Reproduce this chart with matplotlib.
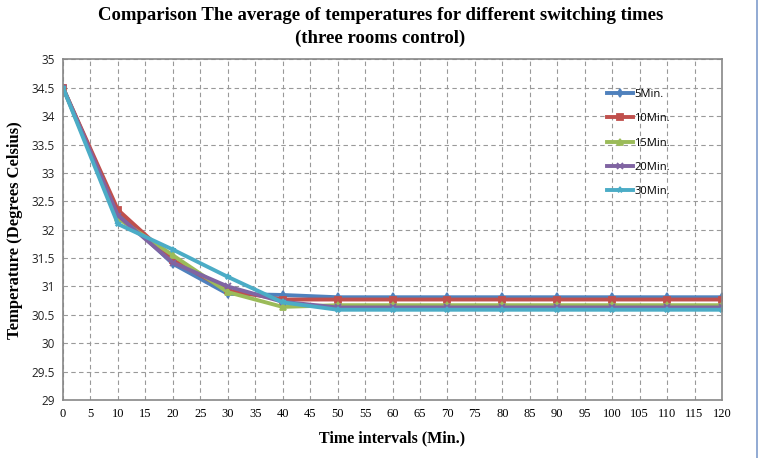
import numpy as np
import matplotlib
matplotlib.use("Agg")
import matplotlib.pyplot as plt
from matplotlib.lines import Line2D

# time points (min) and averaged temperatures per switching time
t = [0, 10, 20, 30, 40, 50, 60, 70, 80, 90, 100, 110, 120]
t5 = [34.5, 32.3, 31.4, 30.87, 30.85, 30.81, 30.81, 30.81, 30.81, 30.81, 30.81, 30.81, 30.81]
t10 = [34.5, 32.35, 31.47, 30.93, 30.77, 30.77, 30.77, 30.77, 30.77, 30.77, 30.77, 30.77, 30.77]
t15 = [34.5, 32.2, 31.55, 30.9, 30.64, 30.67, 30.67, 30.67, 30.67, 30.67, 30.67, 30.67, 30.67]
t20 = [34.5, 32.25, 31.42, 31.0, 30.73, 30.63, 30.63, 30.63, 30.63, 30.63, 30.63, 30.63, 30.63]
t30 = [34.5, 32.1, 31.65, 31.17, 30.72, 30.59, 30.59, 30.59, 30.59, 30.59, 30.59, 30.59, 30.59]

labels = ["5Min.", "10Min.", "15Min.", "20Min.", "30Min."]
colors = ["#4F81BD", "#C0504D", "#9BBB59", "#8064A2", "#4BACC6"]
markers = ["d", "s", "^", "x", "*"]

fig = plt.figure(figsize=(7.61, 4.58), dpi=100)
ax = fig.add_axes([63/761, 1-400/458, (722-63)/761, (400-59.4)/458])

for y, lab, c, m in zip([t5, t10, t15, t20, t30], labels, colors, markers):
    ax.plot(t, y, color=c, lw=2.8, marker=m, ms=4, mew=1.3, label=lab)

ax.set_xlim(0, 120)
ax.set_ylim(29, 35)
ax.set_xticks(np.arange(0, 121, 5))
ax.set_yticks(np.arange(29, 35.01, 0.5))
ax.set_yticklabels(["%g" % v for v in np.arange(29, 35.01, 0.5)], fontsize=8.5,
                   family="Open Sans", color="#222222")
ax.set_xticklabels([str(v) for v in range(0, 121, 5)], fontsize=9,
                   family="Liberation Serif")
ax.tick_params(length=0, pad=6)
ax.grid(True, ls=(0, (4, 3)), color="#999999", lw=0.8)
for s in ax.spines.values():
    s.set_color("#888888")
    s.set_linewidth(1.2)

fig.text(0.5, 1-16/458, "Comparison The average of temperatures for different switching times",
         ha="center", va="center", family="Liberation Serif", weight="bold", fontsize=13.5)
fig.text(0.5, 1-38/458, "(three rooms control)",
         ha="center", va="center", family="Liberation Serif", weight="bold", fontsize=13.5)
ax.set_xlabel("Time intervals (Min.)", family="Liberation Serif", weight="bold",
              fontsize=11.5, labelpad=7)
ax.set_ylabel("Temperature (Degrees Celsius)", family="Liberation Serif", weight="bold",
              fontsize=12, labelpad=6)

leg = ax.legend(loc="upper left", bbox_to_anchor=(540/659, 1-25/340), frameon=False,
                prop={"family": "Open Sans", "size": 8}, handlelength=2.3,
                labelspacing=1.2, handletextpad=0.1, borderaxespad=0)

fig.add_artist(Line2D([757/761, 757/761], [0, 1], color="#7f9ccc", lw=1.2))

fig.savefig("out.png", dpi=100)
